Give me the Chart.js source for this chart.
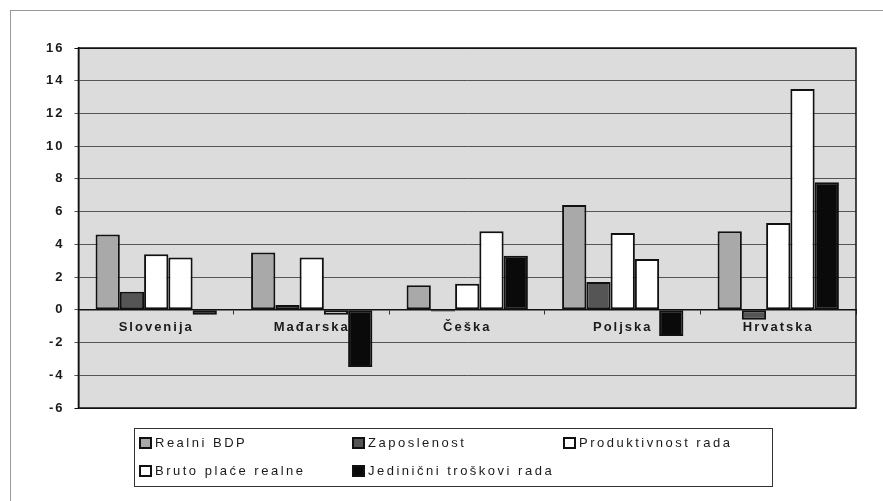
<!DOCTYPE html>
<html>
<head>
<meta charset="utf-8">
<script src="https://cdn.jsdelivr.net/npm/chart.js@4.4.0/dist/chart.umd.min.js"></script>
<style>
  html, body { margin: 0; padding: 0; background: #fff; }
  #wrap { position: relative; width: 883px; height: 501px; overflow: hidden; font-family: "Liberation Sans", Arial, sans-serif; }
  #frame { position: absolute; left: 10px; top: 10px; width: 900px; height: 520px; border-left: 1px solid #999; border-top: 1px solid #999; }
  #chart { position: absolute; left: 0; top: 0; }
  #legend { position: absolute; left: 134px; top: 428px; width: 637px; height: 57px; border: 1px solid #333; }
  .item { position: absolute; display: flex; align-items: center; font-size: 13px; letter-spacing: 2.5px; color: #1a1a1a; white-space: nowrap; }
  .box { width: 9px; height: 8px; border: 2px solid #111; margin-right: 3px; }
</style>
</head>
<body>
<div id="wrap">
  <div id="frame"></div>
  <canvas id="chart" width="883" height="501"></canvas>
  <div id="legend"></div>
</div>
<script>
// podaci
const zemlje = ['Slovenija', 'Mađarska', 'Češka', 'Poljska', 'Hrvatska'];
const realniBDP = [4.6, 3.5, 1.5, 6.4, 4.8];
const zaposlenost = [1.1, 0.3, -0.1, 1.7, -0.6];
const produktivnost = [3.4, 3.2, 1.6, 4.7, 5.3];
const brutoPlace = [3.2, -0.3, 4.8, 3.1, 13.5];
const jedinicniTroskovi = [-0.3, -3.5, 3.3, -1.6, 7.8];

// pozadina i okvir podrucja grafa
const plotArea = {
  id: 'plotArea',
  beforeLayout(chart) { chart.ctx.letterSpacing = '2px'; },
  beforeDraw(chart) {
    const { ctx, chartArea: a } = chart;
    ctx.letterSpacing = '2px';
    ctx.save();
    ctx.fillStyle = '#dcdcdc';
    ctx.fillRect(a.left, a.top, a.width, a.height);
    ctx.restore();
  },
  beforeDatasetsDraw(chart) {
    const { ctx, chartArea: a } = chart;
    ctx.save();
    ctx.strokeStyle = '#111';
    ctx.lineWidth = 1.5;
    ctx.strokeRect(a.left, a.top, a.width, a.height);
    ctx.restore();
  }
};

const ctx = document.getElementById('chart');
const chart = new Chart(ctx, {
  type: 'bar',
  data: {
    labels: zemlje,
    datasets: [
      { label: 'Realni BDP', data: realniBDP, backgroundColor: '#a9a9a9' },
      { label: 'Zaposlenost', data: zaposlenost, backgroundColor: '#555555' },
      { label: 'Produktivnost rada', data: produktivnost, backgroundColor: '#ffffff' },
      { label: 'Bruto plaće realne', data: brutoPlace, backgroundColor: '#ffffff' },
      { label: 'Jedinični troškovi rada', data: jedinicniTroskovi, backgroundColor: '#0a0a0a' }
    ].map(d => Object.assign(d, { borderColor: '#111', borderWidth: 2, borderSkipped: false }))
  },
  options: {
    responsive: false,
    animation: false,
    layout: { padding: { top: 48, right: 27, bottom: 93, left: 36 } },
    datasets: { bar: { categoryPercentage: 0.78, barPercentage: 1 } },
    plugins: { legend: { display: false }, tooltip: { enabled: false } },
    scales: {
      x: {
        position: { y: 0 },
        grid: { drawOnChartArea: false, drawTicks: true, tickLength: 4, offset: true, color: '#333' },
        border: { display: true, color: '#111', width: 1.5 },
        ticks: { color: '#1a1a1a', padding: 6, font: { family: 'Liberation Sans', size: 13, weight: 'bold' } }
      },
      y: {
        min: -6,
        max: 16,
        ticks: { stepSize: 2, color: '#1a1a1a', padding: 10, font: { family: 'Liberation Sans', size: 13, weight: 'bold' } },
        grid: { color: c => (c.tick && (c.tick.value === -6 || c.tick.value === 16)) ? '#111' : '#555', lineWidth: 1, tickLength: 4 },
        border: { color: '#111', width: 1.5 }
      }
    }
  },
  plugins: [plotArea]
});

// legenda
const legend = document.getElementById('legend');
const pozicije = [[4, 14], [217, 14], [428, 14], [4, 42], [217, 42]];
chart.data.datasets.forEach((d, i) => {
  const el = document.createElement('div');
  el.className = 'item';
  el.style.left = pozicije[i][0] + 'px';
  el.style.top = (pozicije[i][1] - 8) + 'px';
  const b = document.createElement('span');
  b.className = 'box';
  b.style.background = d.backgroundColor;
  el.appendChild(b);
  el.appendChild(document.createTextNode(d.label));
  legend.appendChild(el);
});
</script>
</body>
</html>
